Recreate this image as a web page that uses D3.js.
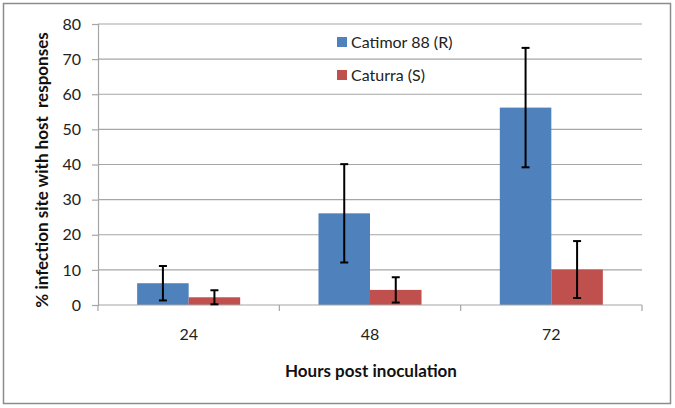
<!DOCTYPE html>
<html><head><meta charset="utf-8">
<script src="https://cdn.jsdelivr.net/npm/d3@7"></script>
<style>body{margin:0;background:#fff}svg{display:block}text{font-family:Lato,"Open Sans",sans-serif}</style>
</head><body><svg id="c" width="675" height="408"></svg>
<script>
const categories = ["24", "48", "72"];
const seriesNames = ["Catimor 88 (R)", "Caturra (S)"];
const catimor = [6.2, 26.1, 56.2];
const catimorErr = [4.9, 14.0, 17.0];
const caturra = [2.2, 4.3, 10.1];
const caturraErr = [2.0, 3.6, 8.1];
const yTicks = [0, 10, 20, 30, 40, 50, 60, 70, 80];
const colors = ["#4F81BD", "#C0504D"];

const svg = d3.select("#c");
svg.append("rect").attr("x", 3.5).attr("y", 3.5).attr("width", 667).attr("height", 400)
  .attr("fill", "#fff").attr("stroke", "#8c8c8c").attr("stroke-width", 1.5);

const L = 98, R = 642, T = 24, B = 305;
const x = d3.scaleBand().domain(categories).range([L, R]).paddingInner(0).paddingOuter(0);
const y = d3.scaleLinear().domain([0, 80]).range([B, T]);
const inner = d3.scaleBand().domain([0, 1]).range([0, x.bandwidth()]).paddingInner(0).paddingOuter(0.76);

// grid
svg.append("g").selectAll("line").data(yTicks.filter(d => d > 0)).join("line")
  .attr("x1", L).attr("x2", R).attr("y1", d => y(d)).attr("y2", d => y(d))
  .attr("stroke", "#a6a6a6").attr("stroke-width", 1.2);

// y axis
const ya = svg.append("g").attr("transform", `translate(${L},0)`)
  .call(d3.axisLeft(y).tickValues(yTicks).tickSize(6).tickPadding(11));
ya.select(".domain").attr("stroke", "#a6a6a6").attr("stroke-width", 1.2);
ya.selectAll(".tick line").attr("stroke", "#a6a6a6").attr("stroke-width", 1.2);
ya.selectAll("text").attr("font-size", 16).attr("fill", "#222").attr("font-family", "Lato,'Open Sans',sans-serif");

// bars
const data = [catimor, caturra];
const errs = [catimorErr, caturraErr];
data.forEach((vals, s) => {
  const g = svg.append("g");
  g.selectAll("rect").data(vals).join("rect")
    .attr("x", (d, i) => x(categories[i]) + inner(s))
    .attr("width", inner.bandwidth())
    .attr("y", d => y(d)).attr("height", d => B - y(d))
    .attr("fill", colors[s]);
});

// x axis
const xa = svg.append("g").attr("transform", `translate(0,${B})`);
xa.append("line").attr("x1", L).attr("x2", R).attr("stroke", "#a6a6a6").attr("stroke-width", 1.2);
const bounds = [L].concat(categories.map(c => x(c) + x.bandwidth()));
xa.selectAll(".tk").data(bounds).join("line").attr("class", "tk")
  .attr("x1", d => d).attr("x2", d => d).attr("y1", 0).attr("y2", 6)
  .attr("stroke", "#a6a6a6").attr("stroke-width", 1.2);
xa.selectAll("text").data(categories).join("text")
  .attr("x", d => x(d) + x.bandwidth() / 2).attr("y", 35)
  .attr("text-anchor", "middle").attr("font-size", 16).attr("fill", "#222").text(d => d);

// error bars
data.forEach((vals, s) => {
  const g = svg.append("g").attr("stroke", "#000").attr("stroke-width", 2);
  vals.forEach((v, i) => {
    const cx = x(categories[i]) + inner(s) + inner.bandwidth() / 2;
    const e = errs[s][i];
    g.append("line").attr("x1", cx).attr("x2", cx).attr("y1", y(v + e)).attr("y2", y(Math.max(0, v - e)));
    [v + e, Math.max(0, v - e)].forEach(t => g.append("line")
      .attr("x1", cx - 4).attr("x2", cx + 4).attr("y1", y(t)).attr("y2", y(t)));
  });
});

// legend
const lg = svg.append("g");
seriesNames.forEach((n, i) => {
  const cy = 42 + i * 33;
  lg.append("rect").attr("x", 337).attr("y", cy - 5).attr("width", 10).attr("height", 10).attr("fill", colors[i]);
  lg.append("text").attr("x", 351).attr("y", cy).attr("dy", "0.35em").attr("font-size", 16).attr("fill", "#222").text(n);
});

// titles
svg.append("text").attr("x", 371).attr("y", 377).attr("text-anchor", "middle")
  .attr("font-size", 17).attr("font-weight", "bold").attr("fill", "#111").text("Hours post inoculation");
svg.append("text").attr("transform", "translate(48,170) rotate(-90)").attr("text-anchor", "middle")
  .attr("font-size", 17).attr("font-weight", "bold").attr("fill", "#111")
  .attr("xml:space", "preserve").style("white-space", "pre").text("% infection site with host  responses");
</script></body></html>
